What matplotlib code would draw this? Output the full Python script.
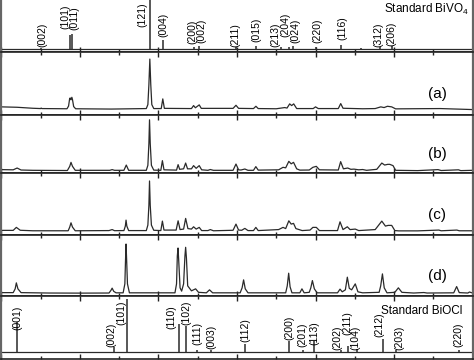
import matplotlib
matplotlib.use('Agg')
import matplotlib.pyplot as plt
from matplotlib.ticker import MultipleLocator

plt.rcParams['font.family'] = ['Liberation Sans', 'DejaVu Sans']
plt.rcParams['mathtext.fontset'] = 'custom'
plt.rcParams['mathtext.rm'] = 'Liberation Sans'

# ---- standard BiVO4 (2theta, relative height) ----
bivo4_pos = [15.1, 18.73, 19.0, 28.9, 30.55, 34.47, 35.19, 39.87, 42.45, 45.6, 46.6, 47.1, 50.0, 53.2, 55.8, 58.2, 59.75]
bivo4_h = [0.8, 14, 14.7, 70, 9, 2.3, 3, 1.5, 3, 1.5, 2, 2.5, 2.3, 4, 1, 2, 3]
bivo4_base = 3
bivo4_labels = ['(002)', '(101)', '(011)', '(121)', '(004)', '(200)', '(002)', '(211)', '(015)',
                '(213)', '(204)', '(024)', '(220)', '(116)', '(312)', '(206)']
bivo4_lx = [15.27, 18.2, 19.3, 27.93, 30.57, 34.3, 35.45, 39.85, 42.43, 44.95, 46.1, 47.4, 50.25, 53.4, 58.06, 59.6]
bivo4_ly = [5.3, 23, 22, 25.3, 14.7, 8, 8.7, 5.3, 10.3, 5.3, 15.3, 8.7, 8.7, 12, 4.7, 6]

# ---- standard BiOCl ----
biocl_pos = [12.03, 24.3, 25.95, 32.66, 33.54, 34.9, 36.67, 41.01, 46.67, 48.35, 49.75, 53.2, 54.18, 55.23, 58.6, 60.2, 68.3]
biocl_h = [29.7, 5, 53, 28, 26, 2, 2, 8, 11, 2, 11, 2, 6, 3, 13, 2, 2]
biocl_base = 7
biocl_labels = ['(001)', '(002)', '(101)', '(110)', '(102)', '(111)', '(003)', '(112)', '(200)', '(201)',
                '(113)', '(202)', '(211)', '(104)', '(212)', '(203)', '(220)']
biocl_lx = [12.05, 24.0, 25.25, 31.7, 33.6, 34.9, 36.75, 41.05, 46.65, 48.35, 49.87, 52.8, 54.05, 55.1, 58.1, 60.63, 68.2]
biocl_ly = [28.3, 11.7, 33.3, 30, 33.3, 13.3, 10, 16.7, 18.3, 11.7, 13.3, 8.3, 23.3, 8.3, 21.7, 8.3, 11.7]

# ---- measured patterns (2theta, intensity a.u.) ----
a_x = [10, 12, 14, 15.0, 15.06, 15.15, 18.35, 18.55, 18.68, 18.75, 18.86, 18.97, 19.05, 19.2, 19.45, 24,
       28.45, 28.65, 28.78, 28.9, 29.02, 29.15, 29.4, 30.35, 30.55, 30.75, 34.2, 34.47, 34.7, 35.19, 35.45,
       39.5, 39.87, 40.2, 42.1, 42.41, 42.7, 45.0, 46.08, 46.37, 46.71, 46.96, 47.22, 47.6, 49.7, 50.0, 50.35,
       52.9, 53.21, 53.5, 56.0, 57.6, 58.31, 58.73, 59.16, 59.7, 60.2, 63.6, 65.9, 70]
a_y = [7.7, 7.3, 6.3, 6.0, 6.5, 6.0, 5.8, 8.5, 15.5, 16.7, 14.8, 17.3, 15, 8, 5.8, 5.5,
       6, 10, 30, 55.7, 30, 10, 6, 6, 15.7, 6.2, 6, 9, 6.8, 9.7, 6.2,
       6.2, 9.3, 6.2, 6, 8.3, 6, 5.8, 7, 6.5, 10.7, 9, 10.7, 6, 6, 7.7, 6,
       6, 11, 6.3, 5.8, 6, 7.7, 7, 8.3, 7.7, 5.7, 5.9, 6.0, 5.0]

b_x = [10, 11.5, 12.0, 12.5, 14, 18.4, 18.7, 18.86, 19.05, 19.4, 23.8, 24.1, 24.4, 25.6, 25.9, 26.2,
       28.45, 28.65, 28.78, 28.86, 28.95, 29.1, 29.4, 30.3, 30.5, 30.7, 32.3, 32.5, 32.7, 33.2, 33.46, 33.7,
       34.2, 34.47, 34.8, 35.19, 35.5, 36.3, 36.6, 37, 39.5, 39.87, 40.2, 40.5, 41.0, 41.4, 42.1, 42.4, 42.7,
       45.3, 45.86, 46.2, 46.6, 46.9, 47.2, 47.6, 48.0, 49.2, 49.66, 50.1, 50.5, 52.9, 53.2, 53.55, 54.1,
       54.5, 54.9, 55.5, 56.0, 56.5, 57.8, 58.44, 58.8, 59.2, 59.45, 59.87, 60.2, 63, 65.6, 66, 68.2, 68.5, 70]
b_y = [3.7, 3.5, 5.3, 3.3, 3.0, 2.8, 7, 11, 7, 3, 3, 3.7, 3, 3, 8.3, 3,
       3, 8, 30, 53.7, 30, 8, 3.2, 3, 12.7, 3.5, 3.2, 8.7, 4, 4.5, 10.3, 4.5,
       4.5, 7.7, 5, 7.7, 3.5, 3, 3.8, 3, 3, 9.3, 3.5, 3.3, 4.3, 3, 3, 6.7, 3.2,
       3.5, 6, 5.5, 12, 9.5, 11, 4.5, 3.2, 3.3, 6, 7, 3.5, 3.3, 11.7, 4.5, 5.3,
       4, 4.2, 3.5, 3.8, 3, 4, 10.3, 8.3, 9, 9, 7.7, 3, 2.7, 3.7, 2.8, 3.5, 2.7, 3]

c_x = [10, 11.5, 11.9, 12.4, 14, 18.5, 18.7, 18.86, 19.05, 19.4, 23.7, 24.1, 24.4, 25.6, 25.78, 25.87, 25.97,
       26.2, 28.45, 28.65, 28.78, 28.86, 28.95, 29.1, 29.4, 30.3, 30.5, 30.7, 32.25, 32.5, 32.75, 33.2, 33.46,
       33.75, 34.2, 34.47, 34.8, 35.19, 35.5, 36.3, 36.6, 37, 39.5, 39.87, 40.2, 40.6, 41.0, 41.4, 42.1, 42.4,
       42.7, 45.3, 45.86, 46.2, 46.6, 46.9, 47.2, 47.5, 47.9, 48.3, 49.3, 49.66, 50.1, 50.5, 52.8, 53.12, 53.5,
       54.05, 54.4, 55.06, 55.5, 57.6, 58.44, 58.9, 59.25, 59.7, 60.1, 60.6, 63, 65.7, 66, 68.0, 68.3, 70]
c_y = [4.7, 4.7, 7.7, 4.8, 4.3, 4.3, 8, 12.3, 8, 4.3, 4.5, 5.5, 4.4, 4.5, 9, 15, 9,
       4.5, 4.5, 10, 30, 54.3, 30, 10, 4.8, 4.5, 14, 5, 5, 14.3, 5.5, 6, 16.7,
       6.5, 6, 8.3, 6, 7.7, 4.5, 4.5, 5.5, 4.3, 4.8, 11, 5, 4.8, 6.7, 4.5, 4.5, 7.7,
       4.5, 5.5, 7.7, 6.5, 14.3, 11, 11.7, 6.5, 5.5, 4.5, 5, 7.7, 7.7, 4.5, 4.5, 13.3, 5.5,
       8.3, 5.5, 6, 4.5, 5.5, 14, 9, 9.7, 9.7, 4.5, 4.2, 4.2, 5, 4.3, 5, 4.3, 4.3]

d_x = [10, 11.5, 11.75, 11.9, 12.1, 12.5, 16, 20, 23.7, 23.95, 24.1, 24.3, 24.6, 25.5, 25.72, 25.8, 25.87,
       25.95, 26.05, 26.3, 32.1, 32.3, 32.4, 32.49, 32.58, 32.75, 32.95, 33.2, 33.37, 33.46, 33.56, 33.72,
       34.2, 34.73, 35.1, 36.1, 36.5, 36.9, 40.4, 40.65, 40.84, 41.05, 41.4, 46.2, 46.4, 46.58, 46.76, 47.0,
       48.0, 48.27, 48.55, 49.2, 49.4, 49.6, 49.85, 50.2, 52.8, 53.12, 53.4, 53.8, 54.05, 54.3, 54.6, 55.06,
       55.4, 56, 58.1, 58.3, 58.52, 58.75, 59.1, 60.1, 60.55, 61.0, 62.5, 63.8, 64.2, 67.6, 67.97, 68.3,
       69.4, 69.6, 70]
d_y = [3.2, 3.2, 7, 13, 7, 3.2, 2.8, 2.7, 2.8, 5.5, 7.7, 4.5, 3, 3, 12, 35, 52,
       35, 12, 3, 3, 12, 40, 48, 35, 8, 4.7, 12, 40, 48.7, 38, 10,
       5, 7, 3.5, 3, 6, 3, 3, 8, 16, 7, 3, 3, 10, 22.7, 9, 3,
       3, 7, 3, 3.5, 8, 15.3, 7, 3, 3, 6.7, 4, 6, 18.7, 7.5, 6, 12,
       4, 3, 3.5, 10, 22, 8, 3, 3.5, 8, 3.5, 2.8, 3.3, 2.8, 3, 9.3, 3.2,
       2.8, 3.8, 2.8]

sample_names = ['(a)', '(b)', '(c)', '(d)']
sample_x = [a_x, b_x, c_x, d_x]
sample_y = [a_y, b_y, c_y, d_y]

line_col = '#2a2a2a'
fig = plt.figure(figsize=(4.74, 3.6), dpi=100)
gs = fig.add_gridspec(6, 1, height_ratios=[52, 63, 59, 62, 61, 63], hspace=0,
                      left=0.003, right=0.997, top=1.0, bottom=0.004)
axes = [fig.add_subplot(gs[i]) for i in range(6)]

for i, ax in enumerate(axes):
    ax.set_xlim(10, 70)
    ax.xaxis.set_major_locator(MultipleLocator(10))
    ax.xaxis.set_minor_locator(MultipleLocator(5))
    ax.tick_params(axis='x', which='both', direction='in', top=(i > 0), bottom=True,
                   labelbottom=False, labeltop=False, color='#222222', width=1.0)
    ax.tick_params(axis='x', which='major', length=3.5)
    ax.tick_params(axis='x', which='minor', length=2.5)
    ax.set_yticks([])
    for s in ['top', 'bottom']:
        ax.spines[s].set_linewidth(1.2)
        ax.spines[s].set_color('#222222')
    for s in ['left', 'right']:
        ax.spines[s].set_linewidth(1.6)
        ax.spines[s].set_color('#666666')
    ax.set_ylim(0, [52, 63, 59, 62, 61, 63][i])
axes[0].spines['top'].set_visible(False)

# standard BiVO4
ax = axes[0]
ax.axhline(bivo4_base, color=line_col, lw=0.9)
ax.vlines(bivo4_pos, bivo4_base, [bivo4_base + h for h in bivo4_h], color=line_col, lw=1.1)
for lab, lx, ly in zip(bivo4_labels, bivo4_lx, bivo4_ly):
    ax.text(lx, ly, lab, rotation=90, ha='center', va='bottom', fontsize=7.5)
ax.text(69.6, 42.5, 'Standard BiVO$_\\mathregular{4}$', ha='right', va='center', fontsize=8.5)

# samples
for ax, name, xs, ys in zip(axes[1:5], sample_names, sample_x, sample_y):
    ax.plot(xs, ys, color=line_col, lw=0.9)
    ax.text(65.5, ax.get_ylim()[1] * 0.33, name, ha='center', va='center', fontsize=11)

# standard BiOCl
ax = axes[5]
ax.axhline(biocl_base, color=line_col, lw=0.9)
ax.vlines(biocl_pos, biocl_base, [biocl_base + h for h in biocl_h], color=line_col, lw=1.1)
for lab, lx, ly in zip(biocl_labels, biocl_lx, biocl_ly):
    ax.text(lx, ly, lab, rotation=90, ha='center', va='bottom', fontsize=7.5)
ax.text(68.7, 48, 'Standard BiOCl', ha='right', va='center', fontsize=8.5)

fig.savefig('out.png', dpi=100)
